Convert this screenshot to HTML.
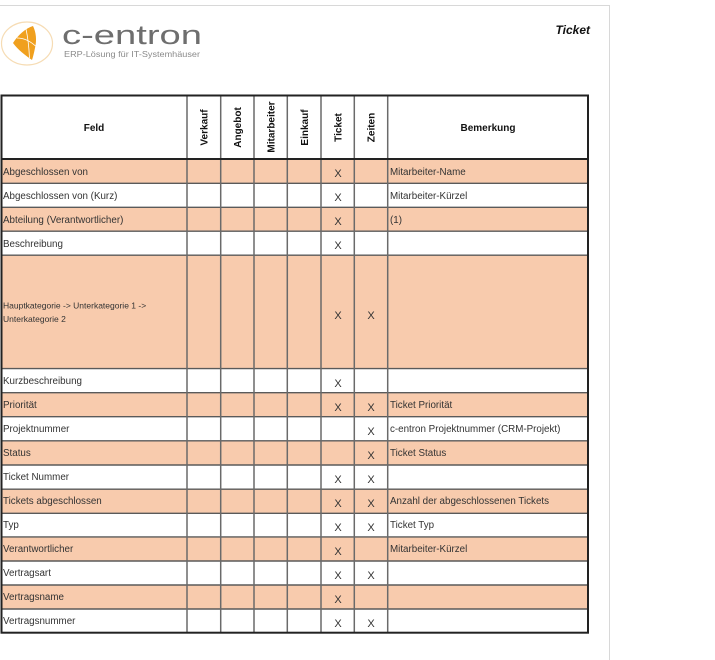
<!DOCTYPE html>
<html>
<head>
<meta charset="utf-8">
<style>
  html,body{margin:0;padding:0;background:#fff;}
  body{width:715px;height:660px;overflow:hidden;}
  svg{display:block;}
  text{font-family:"Liberation Sans",Arial,sans-serif;}
  .t{font-size:9.8px;fill:#333;}
  .x{font-size:11px;fill:#333;text-anchor:middle;}
  .h{font-size:10px;font-weight:bold;fill:#111;text-anchor:middle;}
</style>
</head>
<body>
<svg width="715" height="660" viewBox="0 0 715 660" xmlns="http://www.w3.org/2000/svg">
  <!-- page border -->
  <line x1="0" y1="5.5" x2="609.5" y2="5.5" stroke="#d8d8d8" stroke-width="1"/>
  <line x1="609.5" y1="5" x2="609.5" y2="660" stroke="#d8d8d8" stroke-width="1"/>

  <!-- logo -->
  <ellipse cx="27" cy="43.5" rx="25.5" ry="21.5" fill="none" stroke="#f6dcb4" stroke-width="1.2"/>
  <path d="M13,43 C18,35 26,28 33,26 C36,32 37,40 35,48 C34,53 33,57 32,60 C25,55 18,50 13,43 Z" fill="#f0a01e"/>
  <path d="M17,38 C24,38 30,41 35.5,46" fill="none" stroke="#fff" stroke-width="0.8"/>
  <path d="M26,29 C28,38 29,48 29.5,58" fill="none" stroke="#fff" stroke-width="0.8"/>
  <text x="62" y="44" font-size="27" fill="#6e6e6e" textLength="140" lengthAdjust="spacingAndGlyphs">c-entron</text>
  <text x="64" y="57" font-size="8.3" fill="#8a8a8a" textLength="136" lengthAdjust="spacingAndGlyphs">ERP-Lösung für IT-Systemhäuser</text>

  <!-- title -->
  <text x="590" y="34" font-size="12" font-weight="bold" font-style="italic" fill="#111" text-anchor="end">Ticket</text>

  <!-- row fills -->
  <g fill="#f8cbad">
    <rect x="1" y="159" width="587" height="24"/>
    <rect x="1" y="207" width="587" height="24"/>
    <rect x="1" y="255" width="587" height="114"/>
    <rect x="1" y="393" width="587" height="24"/>
    <rect x="1" y="441" width="587" height="24"/>
    <rect x="1" y="489" width="587" height="24"/>
    <rect x="1" y="537" width="587" height="24"/>
    <rect x="1" y="585" width="587" height="24"/>
  </g>

  <!-- horizontal grid lines -->
  <g stroke="#5a5a5a" stroke-width="1.4">
    <line x1="1" y1="183.3" x2="588" y2="183.3"/>
    <line x1="1" y1="207.3" x2="588" y2="207.3"/>
    <line x1="1" y1="231.2" x2="588" y2="231.2"/>
    <line x1="1" y1="255.2" x2="588" y2="255.2"/>
    <line x1="1" y1="368.6" x2="588" y2="368.6"/>
    <line x1="1" y1="392.7" x2="588" y2="392.7"/>
    <line x1="1" y1="416.7" x2="588" y2="416.7"/>
    <line x1="1" y1="440.8" x2="588" y2="440.8"/>
    <line x1="1" y1="465" x2="588" y2="465"/>
    <line x1="1" y1="489.2" x2="588" y2="489.2"/>
    <line x1="1" y1="513.3" x2="588" y2="513.3"/>
    <line x1="1" y1="536.9" x2="588" y2="536.9"/>
    <line x1="1" y1="561" x2="588" y2="561"/>
    <line x1="1" y1="585" x2="588" y2="585"/>
    <line x1="1" y1="609" x2="588" y2="609"/>
  </g>

  <!-- vertical grid lines -->
  <g stroke="#6a6a6a" stroke-width="1.5">
    <line x1="187" y1="95" x2="187" y2="633"/>
    <line x1="220.7" y1="95" x2="220.7" y2="633"/>
    <line x1="254" y1="95" x2="254" y2="633"/>
    <line x1="287.3" y1="95" x2="287.3" y2="633"/>
    <line x1="321" y1="95" x2="321" y2="633"/>
    <line x1="354.3" y1="95" x2="354.3" y2="633"/>
    <line x1="387.7" y1="95" x2="387.7" y2="633"/>
  </g>

  <!-- outer border and header bottom -->
  <rect x="1.5" y="95.5" width="586.5" height="537.2" fill="none" stroke="#222" stroke-width="2"/>
  <line x1="1" y1="159" x2="588" y2="159" stroke="#222" stroke-width="2"/>

  <!-- header texts -->
  <text class="h" x="94" y="131">Feld</text>
  <text class="h" x="488" y="131">Bemerkung</text>
  <text class="h" transform="translate(207.5,127.5) rotate(-90)">Verkauf</text>
  <text class="h" transform="translate(241,127.5) rotate(-90)">Angebot</text>
  <text class="h" transform="translate(274.3,127) rotate(-90)">Mitarbeiter</text>
  <text class="h" transform="translate(307.8,127.5) rotate(-90)">Einkauf</text>
  <text class="h" transform="translate(341.3,127.5) rotate(-90)">Ticket</text>
  <text class="h" transform="translate(374.7,127.5) rotate(-90)">Zeiten</text>

  <!-- Feld column -->
  <text class="t" x="3" y="175">Abgeschlossen von</text>
  <text class="t" x="3" y="199">Abgeschlossen von (Kurz)</text>
  <text class="t" x="3" y="223">Abteilung (Verantwortlicher)</text>
  <text class="t" x="3" y="247">Beschreibung</text>
  <text x="3" y="308.5" font-size="8.5" fill="#333">Hauptkategorie -&gt; Unterkategorie 1 -&gt;</text>
  <text x="3" y="321.8" font-size="8.5" fill="#333">Unterkategorie 2</text>
  <text class="t" x="3" y="384">Kurzbeschreibung</text>
  <text class="t" x="3" y="408">Priorität</text>
  <text class="t" x="3" y="432">Projektnummer</text>
  <text class="t" x="3" y="456">Status</text>
  <text class="t" x="3" y="480">Ticket Nummer</text>
  <text class="t" x="3" y="504">Tickets abgeschlossen</text>
  <text class="t" x="3" y="528">Typ</text>
  <text class="t" x="3" y="552">Verantwortlicher</text>
  <text class="t" x="3" y="576">Vertragsart</text>
  <text class="t" x="3" y="600">Vertragsname</text>
  <text class="t" x="3" y="624">Vertragsnummer</text>

  <!-- Ticket column X -->
  <text class="x" x="338" y="177">X</text>
  <text class="x" x="338" y="201">X</text>
  <text class="x" x="338" y="225">X</text>
  <text class="x" x="338" y="249">X</text>
  <text class="x" x="338" y="319">X</text>
  <text class="x" x="338" y="387">X</text>
  <text class="x" x="338" y="411">X</text>
  <text class="x" x="338" y="483">X</text>
  <text class="x" x="338" y="507">X</text>
  <text class="x" x="338" y="531">X</text>
  <text class="x" x="338" y="555">X</text>
  <text class="x" x="338" y="579">X</text>
  <text class="x" x="338" y="603">X</text>
  <text class="x" x="338" y="627">X</text>

  <!-- Zeiten column X -->
  <text class="x" x="371" y="319">X</text>
  <text class="x" x="371" y="411">X</text>
  <text class="x" x="371" y="435">X</text>
  <text class="x" x="371" y="459">X</text>
  <text class="x" x="371" y="483">X</text>
  <text class="x" x="371" y="507">X</text>
  <text class="x" x="371" y="531">X</text>
  <text class="x" x="371" y="579">X</text>
  <text class="x" x="371" y="627">X</text>

  <!-- Bemerkung column -->
  <text class="t" x="390" y="175">Mitarbeiter-Name</text>
  <text class="t" x="390" y="199">Mitarbeiter-Kürzel</text>
  <text class="t" x="390" y="223">(1)</text>
  <text class="t" x="390" y="408">Ticket Priorität</text>
  <text class="t" x="390" y="432">c-entron Projektnummer (CRM-Projekt)</text>
  <text class="t" x="390" y="456">Ticket Status</text>
  <text class="t" x="390" y="504">Anzahl der abgeschlossenen Tickets</text>
  <text class="t" x="390" y="528">Ticket Typ</text>
  <text class="t" x="390" y="552">Mitarbeiter-Kürzel</text>
</svg>
</body>
</html>
